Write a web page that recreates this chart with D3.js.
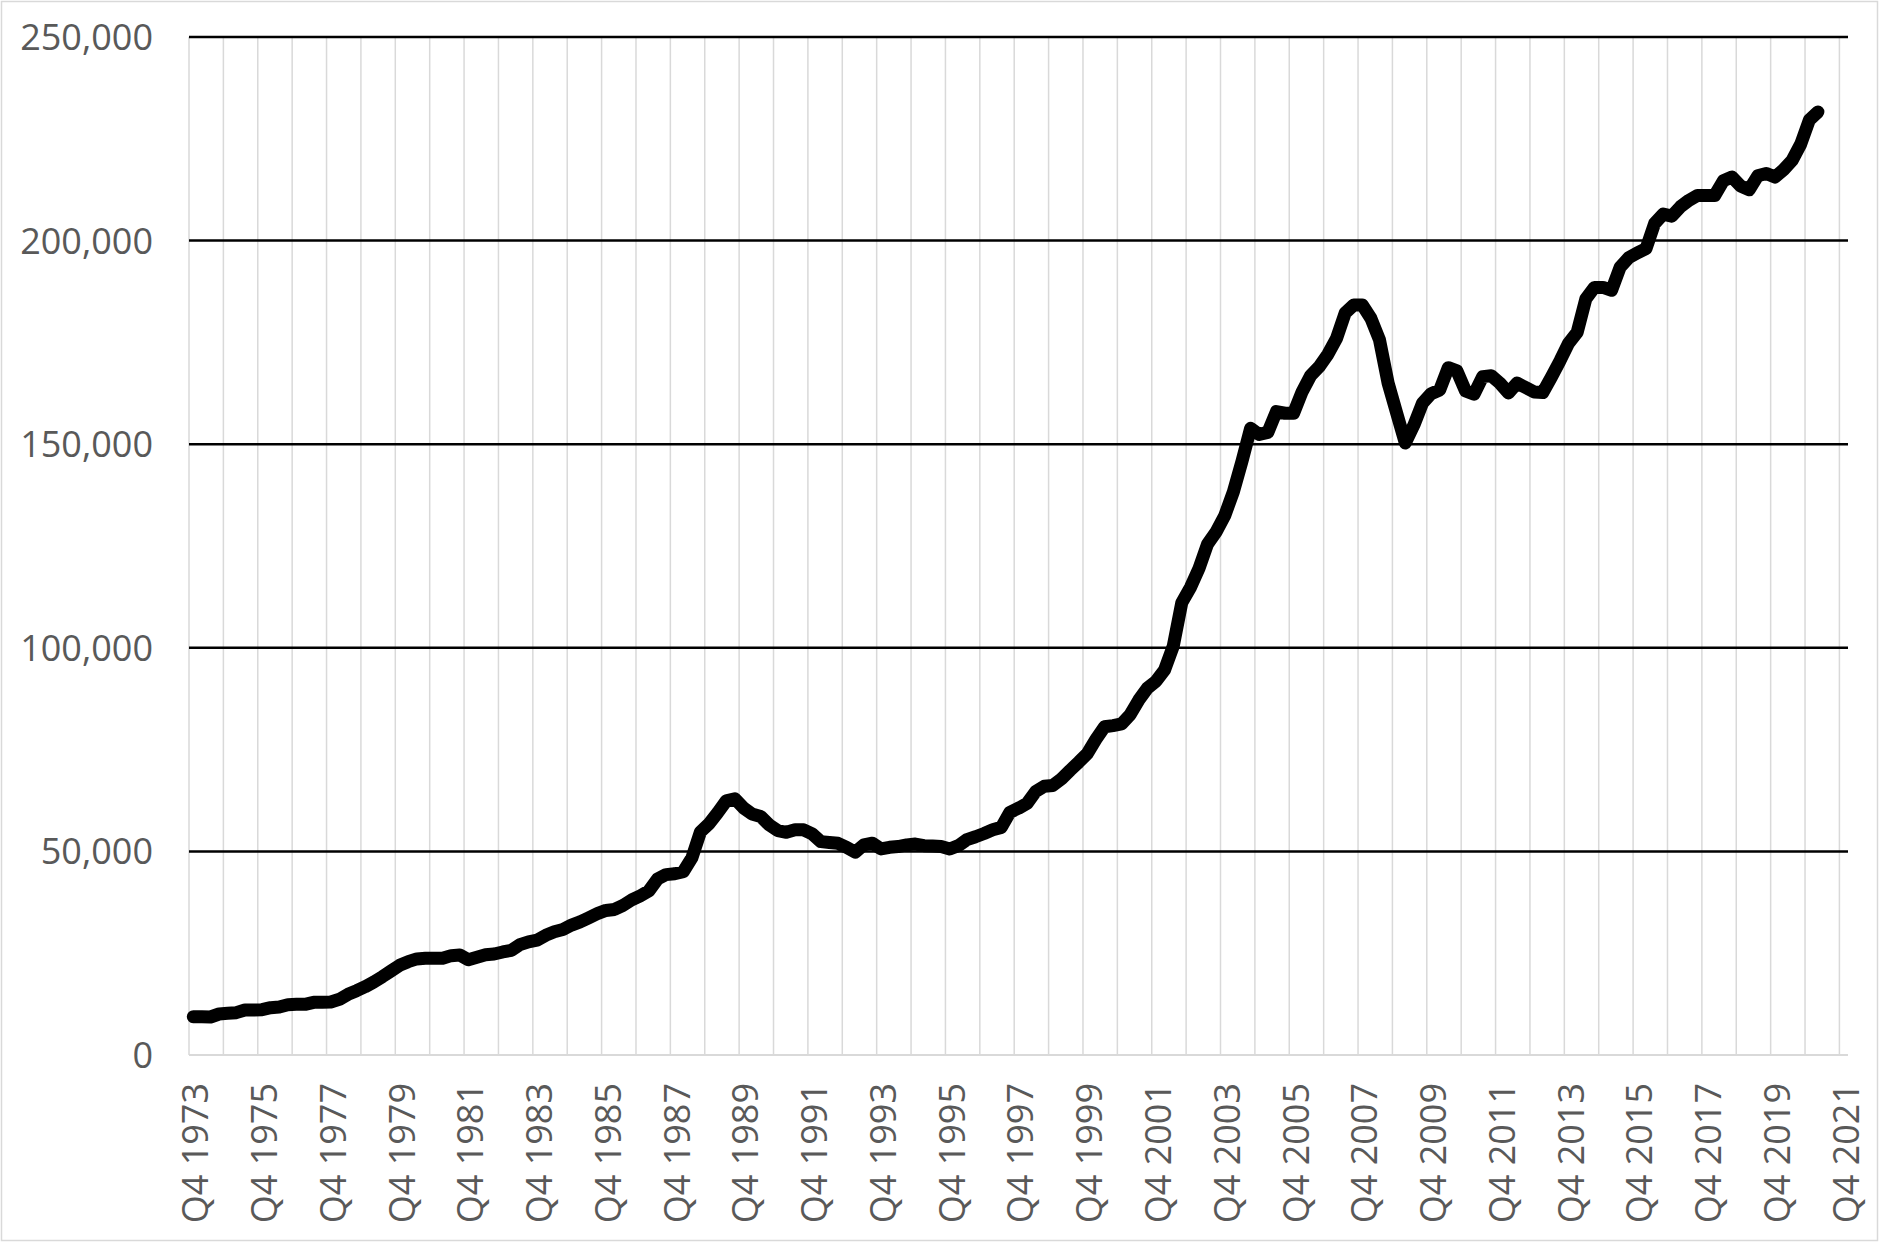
<!DOCTYPE html>
<html>
<head>
<meta charset="utf-8">
<script src="https://cdn.jsdelivr.net/npm/d3@7"></script>
<style>
  html, body { margin: 0; padding: 0; background: #ffffff; }
  svg { display: block; }
  text { font-family: "Open Sans", "Noto Sans", sans-serif; fill: #595959; }
</style>
</head>
<body>
<svg id="chart" width="1879" height="1242"></svg>
<script>
// ---- Data ----
const firstYear = 1973;   // categories run quarterly from Q4 1973 to Q4 2021
const lastYear = 2021;

// Average price, one value per quarter from Q4 1973 to Q1 2021
const prices = [
  9420, 9380, 9330, 10070, 10230, 10400, 11050, 11050, 11130, 11620,
  11790, 12360, 12440, 12440, 12940, 12940, 13020, 13670, 14900, 15800,
  16780, 17930, 19240, 20630, 22020, 22920, 23600, 23750, 23750, 23750,
  24400, 24550, 23400, 24000, 24600, 24800, 25300, 25700, 27100, 27800,
  28200, 29400, 30250, 30800, 31900, 32700, 33700, 34700, 35500, 35750,
  36750, 38100, 39100, 40300, 43200, 44300, 44500, 45000, 48400, 54800,
  56800, 59500, 62400, 62900, 60700, 59200, 58600, 56500, 55100, 54700,
  55300, 55300, 54300, 52400, 52200, 52000, 51000, 49800, 51600, 52000,
  50600, 51000, 51200, 51600, 51800, 51400, 51300, 51200, 50600, 51400,
  52900, 53600, 54400, 55300, 55900, 59600, 60600, 61800, 64700, 66000,
  66200, 67800, 69900, 71900, 74000, 77500, 80600, 80900, 81300, 83600,
  87200, 90100, 91800, 94600, 100400, 111100, 114800, 119500, 125500, 128500,
  132500, 138300, 145800, 153900, 152400, 152900, 158000, 157600, 157600, 162900,
  166900, 169100, 172100, 176000, 182200, 184200, 184200, 180900, 175600, 165000,
  157600, 150300, 154700, 160100, 162400, 163300, 168800, 168000, 163100, 162300,
  166600, 166800, 165000, 162600, 165000, 163900, 162800, 162700, 166500, 170500,
  174800, 177500, 185700, 188500, 188500, 187800, 193500, 195800, 197000, 198000,
  204200, 206500, 206000, 208300, 209900, 211100, 211100, 211100, 214700, 215600,
  213400, 212500, 215900, 216500, 215600, 217400, 219700, 223700, 229600, 231600
];

const yTicks = [0, 50000, 100000, 150000, 200000, 250000];
const xTickLabels = [
  "Q4 1973", "Q4 1975", "Q4 1977", "Q4 1979", "Q4 1981", "Q4 1983", "Q4 1985",
  "Q4 1987", "Q4 1989", "Q4 1991", "Q4 1993", "Q4 1995", "Q4 1997", "Q4 1999",
  "Q4 2001", "Q4 2003", "Q4 2005", "Q4 2007", "Q4 2009", "Q4 2011", "Q4 2013",
  "Q4 2015", "Q4 2017", "Q4 2019", "Q4 2021"
];

// Quarter category labels: Q4 1973, Q1 1974, ... Q4 2021
const categories = ["Q4 " + firstYear];
for (let y = firstYear + 1; y <= lastYear; y++) {
  for (let q = 1; q <= 4; q++) categories.push("Q" + q + " " + y);
}

// ---- Layout ----
const W = 1879, H = 1242;
const plot = { left: 189, right: 1848, top: 37, bottom: 1055 };

const svg = d3.select("#chart");

svg.append("rect")
  .attr("x", 0).attr("y", 0).attr("width", W).attr("height", H)
  .attr("fill", "#ffffff");
svg.append("rect")
  .attr("x", 1.5).attr("y", 1.5).attr("width", W - 3).attr("height", H - 3)
  .attr("fill", "none").attr("stroke", "#d9d9d9").attr("stroke-width", 1.5);

const x = d3.scaleBand()
  .domain(categories)
  .range([plot.left, plot.right])
  .paddingInner(0).paddingOuter(0);

const y = d3.scaleLinear()
  .domain([0, 250000])
  .range([plot.bottom, plot.top]);

// Vertical gridlines every 4 categories (left edges of each year group)
const vGridCats = categories.filter((c, i) => i % 4 === 0);
svg.append("g")
  .selectAll("line")
  .data(vGridCats)
  .join("line")
  .attr("x1", d => x(d)).attr("x2", d => x(d))
  .attr("y1", plot.top).attr("y2", plot.bottom)
  .attr("stroke", "#d9d9d9").attr("stroke-width", 1.5);

// Horizontal gridlines (black)
svg.append("g")
  .selectAll("line")
  .data(yTicks.filter(t => t > 0))
  .join("line")
  .attr("x1", plot.left).attr("x2", plot.right)
  .attr("y1", d => y(d)).attr("y2", d => y(d))
  .attr("stroke", "#000000").attr("stroke-width", 2.5);

// Horizontal axis line (light grey)
svg.append("line")
  .attr("x1", plot.left).attr("x2", plot.right)
  .attr("y1", plot.bottom).attr("y2", plot.bottom)
  .attr("stroke", "#d9d9d9").attr("stroke-width", 2);

// Y axis labels
const fmt = d3.format(",");
svg.append("g")
  .selectAll("text")
  .data(yTicks)
  .join("text")
  .attr("x", 153)
  .attr("y", d => y(d))
  .attr("dy", "0.36em")
  .attr("text-anchor", "end")
  .attr("font-size", 36)
  .text(d => fmt(d));

// X axis labels (rotated)
svg.append("g")
  .selectAll("text")
  .data(xTickLabels)
  .join("text")
  .attr("transform", d => {
    const cx = x(d) + x.bandwidth() / 2 + 2;
    return `translate(${cx},1083) rotate(-90)`;
  })
  .attr("dy", "0.36em")
  .attr("text-anchor", "end")
  .attr("font-size", 36)
  .text(d => d);

// The line
const line = d3.line()
  .x((d, i) => x(categories[i]) + x.bandwidth() / 2)
  .y(d => y(d));

svg.append("path")
  .datum(prices)
  .attr("d", line)
  .attr("fill", "none")
  .attr("stroke", "#000000")
  .attr("stroke-width", 13)
  .attr("stroke-linejoin", "round")
  .attr("stroke-linecap", "round");
</script>
</body>
</html>
